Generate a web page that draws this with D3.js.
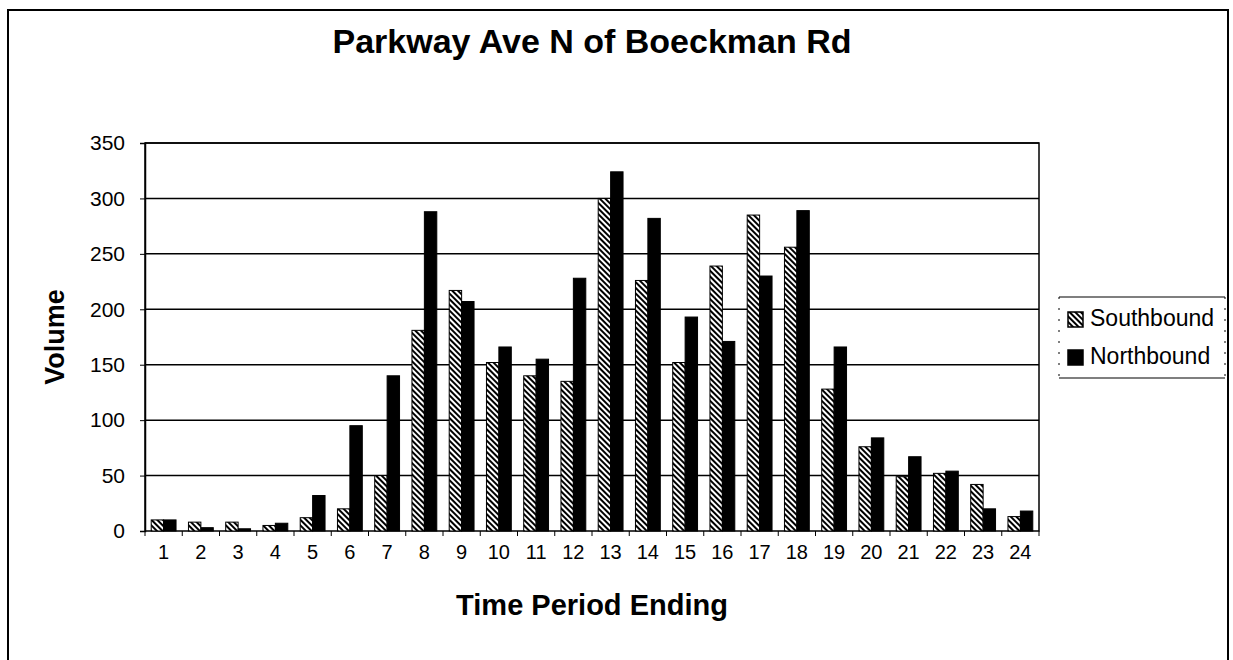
<!DOCTYPE html>
<html>
<head>
<meta charset="utf-8">
<script src="https://cdn.jsdelivr.net/npm/d3@7"></script>
<style>
  body { margin: 0; background: #fff; }
  text { font-family: "Liberation Sans", Arial, sans-serif; }
</style>
</head>
<body>
<div id="wrapper"></div>
<script>
// 1. Data
const hours = ["1","2","3","4","5","6","7","8","9","10","11","12","13","14","15","16","17","18","19","20","21","22","23","24"]
const southbound = [10, 8, 8, 5, 12, 20, 50, 181, 217, 152, 140, 135, 300, 226, 152, 239, 285, 256, 128, 76, 49, 52, 42, 13]
const northbound = [10, 3, 2, 7, 32, 95, 140, 288, 207, 166, 155, 228, 324, 282, 193, 171, 230, 289, 166, 84, 67, 54, 20, 18]
const seriesNames = ["Southbound", "Northbound"]
const yTicks = [0, 50, 100, 150, 200, 250, 300, 350]

const dataset = hours.map((h, i) => ({ hour: h, Southbound: southbound[i], Northbound: northbound[i] }))

// 2. Dimensions
const dimensions = {
  width: 1233,
  height: 660,
  plot: { left: 145, top: 143, right: 1039, bottom: 531 }
}

// 3. Canvas
const svg = d3.select("#wrapper")
  .append("svg")
    .attr("width", dimensions.width)
    .attr("height", dimensions.height)

const defs = svg.append("defs")
const hatch = defs.append("pattern")
    .attr("id", "hatch")
    .attr("patternUnits", "userSpaceOnUse")
    .attr("width", 4)
    .attr("height", 4)
    .attr("patternTransform", "rotate(-45)")
hatch.append("rect")
    .attr("width", 4).attr("height", 4).attr("fill", "#fff")
hatch.append("line")
    .attr("x1", 1).attr("x2", 1).attr("y1", 0).attr("y2", 4)
    .attr("stroke", "#000").attr("stroke-width", 2)

const fills = { Southbound: "url(#hatch)", Northbound: "#000" }

// outer frame (bottom edge runs off the page)
svg.append("rect")
    .attr("x", 8).attr("y", 10)
    .attr("width", 1220).attr("height", 700)
    .attr("fill", "none")
    .attr("stroke", "#000")
    .attr("stroke-width", 2)

// 4. Scales
const xScale = d3.scaleBand()
  .domain(hours)
  .range([dimensions.plot.left, dimensions.plot.right])

const seriesScale = d3.scaleBand()
  .domain(seriesNames)
  .range([0, xScale.bandwidth()])
  .paddingInner(0)
  .paddingOuter(0.5)

const yScale = d3.scaleLinear()
  .domain([0, 350])
  .range([dimensions.plot.bottom, dimensions.plot.top])

// gridlines
svg.append("g")
  .selectAll("line")
  .data(yTicks.slice(1))
  .enter().append("line")
    .attr("x1", dimensions.plot.left)
    .attr("x2", dimensions.plot.right)
    .attr("y1", d => yScale(d))
    .attr("y2", d => yScale(d))
    .attr("stroke", "#000")
    .attr("stroke-width", 1.5)

// plot frame
svg.append("rect")
    .attr("x", dimensions.plot.left)
    .attr("y", dimensions.plot.top)
    .attr("width", dimensions.plot.right - dimensions.plot.left)
    .attr("height", dimensions.plot.bottom - dimensions.plot.top)
    .attr("fill", "none")
    .attr("stroke", "#000")
    .attr("stroke-width", 1.5)

// 5. Bars
const groups = svg.append("g")
  .selectAll("g")
  .data(dataset)
  .enter().append("g")
    .attr("transform", d => `translate(${xScale(d.hour)},0)`)

groups.selectAll("rect")
  .data(d => seriesNames.map(s => ({ key: s, value: d[s] })))
  .enter().append("rect")
    .attr("x", d => seriesScale(d.key))
    .attr("y", d => yScale(d.value))
    .attr("width", seriesScale.bandwidth())
    .attr("height", d => yScale(0) - yScale(d.value))
    .attr("fill", d => fills[d.key])
    .attr("stroke", "#000")
    .attr("stroke-width", 1)

// 6. Axes
const yAxis = svg.append("g")
    .attr("transform", `translate(${dimensions.plot.left},0)`)
    .call(d3.axisLeft(yScale).tickValues(yTicks).tickSize(5).tickPadding(15))
yAxis.select(".domain").attr("stroke-width", 1.5)
yAxis.selectAll("text")
    .style("font-family", "'Liberation Sans', Arial, sans-serif")
    .style("font-size", "21px")
    .attr("fill", "#000")

const xAxis = svg.append("g")
    .attr("transform", `translate(0,${dimensions.plot.bottom})`)
    .call(d3.axisBottom(xScale).tickSize(0).tickPadding(14))
xAxis.select(".domain").remove()
xAxis.selectAll("text")
    .style("font-family", "'Liberation Sans', Arial, sans-serif")
    .style("font-size", "20px")
    .attr("fill", "#000")

// category boundary ticks
svg.append("g")
  .selectAll("line")
  .data(hours.concat(["end"]))
  .enter().append("line")
    .attr("x1", (d, i) => i < hours.length ? xScale(d) : dimensions.plot.right)
    .attr("x2", (d, i) => i < hours.length ? xScale(d) : dimensions.plot.right)
    .attr("y1", dimensions.plot.bottom)
    .attr("y2", dimensions.plot.bottom + 5)
    .attr("stroke", "#000")
    .attr("stroke-width", 1)

// titles
const centerX = (dimensions.plot.left + dimensions.plot.right) / 2
svg.append("text")
    .attr("x", centerX)
    .attr("y", 53)
    .attr("text-anchor", "middle")
    .style("font-size", "34px")
    .style("font-weight", "bold")
    .text("Parkway Ave N of Boeckman Rd")

svg.append("text")
    .attr("x", centerX)
    .attr("y", 615)
    .attr("text-anchor", "middle")
    .style("font-size", "29px")
    .style("font-weight", "bold")
    .text("Time Period Ending")

svg.append("text")
    .attr("transform", `translate(64,${(dimensions.plot.top + dimensions.plot.bottom) / 2}) rotate(-90)`)
    .attr("text-anchor", "middle")
    .style("font-size", "27px")
    .style("font-weight", "bold")
    .text("Volume")

// 7. Legend
const legend = svg.append("g")
    .attr("transform", "translate(1059,297)")
legend.append("line")
    .attr("x1", 0).attr("x2", 166).attr("y1", 0).attr("y2", 0)
    .attr("stroke", "#000").attr("stroke-width", 1.2)
legend.append("line")
    .attr("x1", 0).attr("x2", 166).attr("y1", 81).attr("y2", 81)
    .attr("stroke", "#000").attr("stroke-width", 1.2)
legend.selectAll(".side")
  .data([0, 166])
  .enter().append("line")
    .attr("x1", d => d).attr("x2", d => d)
    .attr("y1", 0).attr("y2", 81)
    .attr("stroke", "#000")
    .attr("stroke-width", 1)
    .attr("stroke-dasharray", "2 9")

const legendItems = legend.selectAll(".item")
  .data(seriesNames)
  .enter().append("g")
    .attr("transform", (d, i) => `translate(9,${15 + i * 38})`)
legendItems.append("rect")
    .attr("width", 15).attr("height", 15)
    .attr("fill", d => fills[d])
    .attr("stroke", "#000")
    .attr("stroke-width", 1.5)
legendItems.append("text")
    .attr("x", 22)
    .attr("y", 14)
    .style("font-size", "23px")
    .text(d => d)
</script>
</body>
</html>
